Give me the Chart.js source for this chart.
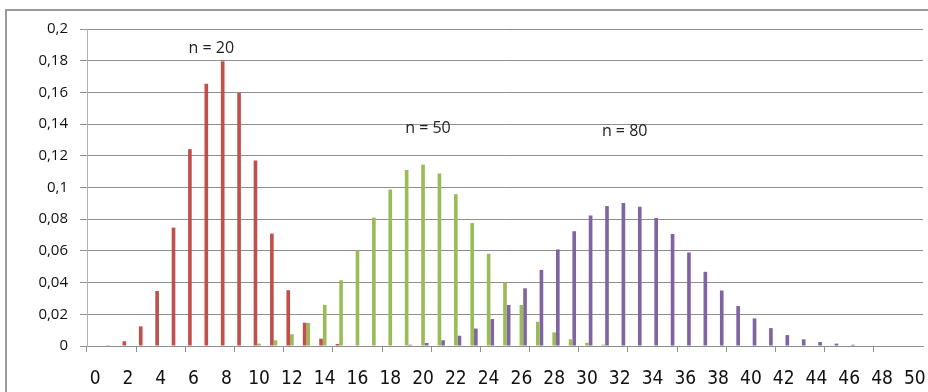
<!DOCTYPE html>
<html>
<head>
<meta charset="utf-8">
<script src="https://cdn.jsdelivr.net/npm/chart.js@4/dist/chart.umd.min.js"></script>
<style>
  html, body { margin: 0; padding: 0; background: #ffffff; overflow: hidden; }
  #wrap { position: relative; width: 928px; height: 392px; }
  #frame { position: absolute; left: 5px; top: 9px; width: 1000px; height: 1000px;
           border-left: 2px solid #9a9a9a; border-top: 2px solid #9a9a9a; box-sizing: border-box; }
  canvas { position: absolute; left: 0; top: 0; }
</style>
</head>
<body>
<div id="wrap">
  <div id="frame"></div>
  <canvas id="c" width="928" height="392"></canvas>
</div>
<script>
// Categories: k = 0 .. 50
const categories = ["0","1","2","3","4","5","6","7","8","9","10","11","12","13","14","15","16","17","18","19","20","21","22","23","24","25","26","27","28","29","30","31","32","33","34","35","36","37","38","39","40","41","42","43","44","45","46","47","48","49","50"];

// n = 20 (red)
const seriesN20 = [0, 0.0005, 0.003, 0.0124, 0.0347, 0.0747, 0.1242, 0.1655, 0.1797, 0.1597,
  0.1171, 0.0709, 0.0352, 0.0147, 0.0046, 0.0013, 0.0003, 0, 0, 0,
  0, 0, 0, 0, 0, 0, 0, 0, 0, 0,
  0, 0, 0, 0, 0, 0, 0, 0, 0, 0,
  0, 0, 0, 0, 0, 0, 0, 0, 0, 0, 0];

// n = 50 (green)
const seriesN50 = [0, 0, 0, 0, 0, 0, 0, 0, 0, 0.0004,
  0.0015, 0.0036, 0.0074, 0.0146, 0.0259, 0.0415, 0.0603, 0.081, 0.0987, 0.111,
  0.1144, 0.1089, 0.0958, 0.0776, 0.0582, 0.0401, 0.0259, 0.0153, 0.0086, 0.0042,
  0.002, 0.0009, 0.0003, 0, 0, 0, 0, 0, 0, 0,
  0, 0, 0, 0, 0, 0, 0, 0, 0, 0, 0];

// n = 80 (purple)
const seriesN80 = [0, 0, 0, 0, 0, 0, 0, 0, 0, 0,
  0, 0, 0, 0, 0, 0, 0, 0, 0.0003, 0.0008,
  0.0019, 0.0036, 0.0065, 0.011, 0.017, 0.0259, 0.0364, 0.048, 0.0609, 0.0724,
  0.0823, 0.0883, 0.0902, 0.0879, 0.0808, 0.0707, 0.059, 0.0468, 0.035, 0.0252,
  0.0174, 0.0113, 0.0069, 0.0042, 0.0025, 0.0015, 0.0008, 0.0003, 0, 0, 0];

const seriesNames = ["n = 20", "n = 50", "n = 80"];
// annotation anchor (category index, value) for each series label
const labelX = [7.08, 20.3, 32.3];
const labelY = [0.188, 0.1375, 0.1356];

const yMin = 0, yMax = 0.2, yStep = 0.02;

const colors = ["#C0504D", "#9BBB59", "#8064A2"];
const gridColor = "#8f8f8f";

const annotationPlugin = {
  id: 'seriesLabels',
  afterDatasetsDraw(chart) {
    const ctx = chart.ctx;
    const xs = chart.scales.x, ys = chart.scales.y;
    ctx.save();
    ctx.font = '16px "Open Sans", sans-serif';
    ctx.fillStyle = '#222222';
    ctx.textAlign = 'center';
    ctx.textBaseline = 'middle';
    seriesNames.forEach((t, i) => {
      ctx.fillText(t, xs.getPixelForValue(labelX[i]), ys.getPixelForValue(labelY[i]));
    });
    ctx.restore();
  }
};

new Chart(document.getElementById('c'), {
  type: 'bar',
  data: {
    labels: categories,
    datasets: [
      { label: seriesNames[0], data: seriesN20, backgroundColor: colors[0], borderWidth: 0 },
      { label: seriesNames[1], data: seriesN50, backgroundColor: colors[1], borderWidth: 0 },
      { label: seriesNames[2], data: seriesN80, backgroundColor: colors[2], borderWidth: 0 }
    ]
  },
  options: {
    responsive: false,
    animation: false,
    devicePixelRatio: 1,
    layout: { padding: { left: 0, right: 5, top: 29, bottom: 0 } },
    datasets: { bar: { categoryPercentage: 0.667, barPercentage: 1.0 } },
    plugins: {
      legend: { display: false },
      title: { display: false },
      tooltip: { enabled: false }
    },
    scales: {
      x: {
        offset: true,
        afterFit: (s) => { s.height = 46; s.paddingLeft = 0; s.paddingRight = 0; },
        grid: {
          offset: true,
          drawOnChartArea: false,
          drawTicks: true,
          tickLength: 6,
          color: (ctx) => (ctx.index % 3 === 0 ? gridColor : 'rgba(0,0,0,0)')
        },
        border: { display: true, color: gridColor },
        ticks: {
          autoSkip: false,
          maxRotation: 0,
          minRotation: 0,
          padding: 16,
          color: '#111111',
          font: { family: '"Liberation Sans Narrow", "DejaVu Sans Condensed", sans-serif', size: 19 },
          callback: (v, i) => (i % 2 === 0 ? categories[i] : '')
        }
      },
      y: {
        min: yMin,
        max: yMax,
        afterFit: (s) => { s.width = 87; s.paddingTop = 0; s.paddingBottom = 0; },
        grid: { color: gridColor, drawTicks: true, tickLength: 7 },
        border: { display: true, color: '#b0b0b0' },
        ticks: {
          stepSize: yStep,
          padding: 12,
          color: '#111111',
          font: { family: '"Open Sans", sans-serif', size: 15 },
          callback: (v) => String(+Number(v).toFixed(2)).replace('.', ',')
        }
      }
    }
  },
  plugins: [annotationPlugin]
});
</script>
</body>
</html>
